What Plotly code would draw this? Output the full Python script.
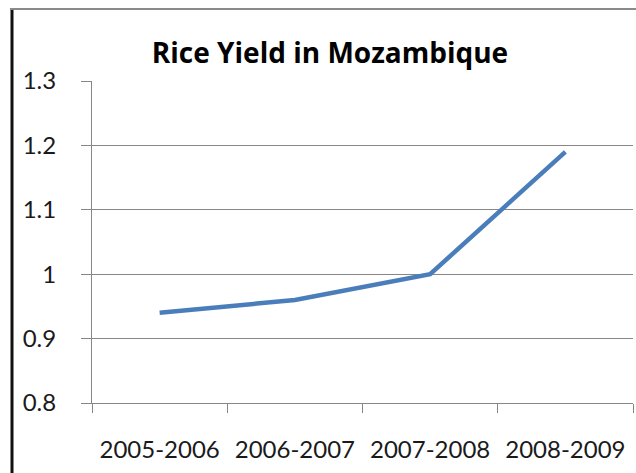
import plotly.graph_objects as go

categories = ["2005-2006", "2006-2007", "2007-2008", "2008-2009"]
yield_values = [0.94, 0.96, 1.0, 1.19]
y_ticks = [0.8, 0.9, 1.0, 1.1, 1.2, 1.3]
y_tick_labels = ["0.8", "0.9", "1", "1.1", "1.2", "1.3"]

W, H = 636, 473
L, R, T, B = 92, 3, 81, 70
pw, ph = W - L - R, H - T - B

fig = go.Figure()
fig.add_trace(go.Scatter(
    x=categories, y=yield_values, mode="lines",
    line=dict(color="#4A7EBB", width=4.5),
    hoverinfo="skip", showlegend=False,
))

axis_gray = "#878787"
text_col = "#1a1a1a"
fig.update_layout(
    width=W, height=H,
    margin=dict(l=L, r=R, t=T, b=B),
    paper_bgcolor="white", plot_bgcolor="white",
    title=dict(
        text="<b>Rice Yield in Mozambique</b>",
        font=dict(family="Open Sans", size=28, color="#000000"),
        x=330 / W, xanchor="center", xref="container",
        y=1 - 53 / H, yanchor="middle", yref="container",
    ),
    xaxis=dict(
        type="category", range=[-0.5, 3.5],
        tickson="boundaries", ticks="outside", ticklen=9,
        tickcolor=axis_gray, tickwidth=1,
        showline=True, linecolor=axis_gray, linewidth=1,
        showgrid=False, zeroline=False,
        tickfont=dict(family="Lato", size=24, color=text_col),
        ticklabelstandoff=25,
    ),
    yaxis=dict(
        range=[0.8, 1.3], tickvals=y_ticks, ticktext=y_tick_labels,
        ticks="outside", ticklen=10, tickcolor=axis_gray, tickwidth=1,
        showline=True, linecolor=axis_gray, linewidth=1,
        showgrid=True, gridcolor=axis_gray, gridwidth=1,
        zeroline=False,
        tickfont=dict(family="Lato", size=24, color=text_col),
        ticklabelstandoff=20,
    ),
)

# chart frame (left and top edges visible)
def px_x(p):
    return (p - L) / pw

def px_y(p):
    return 1 - (p - T) / ph

fig.add_shape(type="line", xref="paper", yref="paper",
              x0=px_x(12), x1=px_x(12), y0=px_y(8), y1=px_y(H + 5),
              line=dict(color="#111111", width=3))
fig.add_shape(type="line", xref="paper", yref="paper",
              x0=px_x(11), x1=px_x(W + 5), y0=px_y(9), y1=px_y(9),
              line=dict(color="#8a8a8a", width=2))

fig.write_html("out.html",
               config={"displayModeBar": False},
               post_script="document.body.style.margin='0';document.body.style.overflow='hidden';")
